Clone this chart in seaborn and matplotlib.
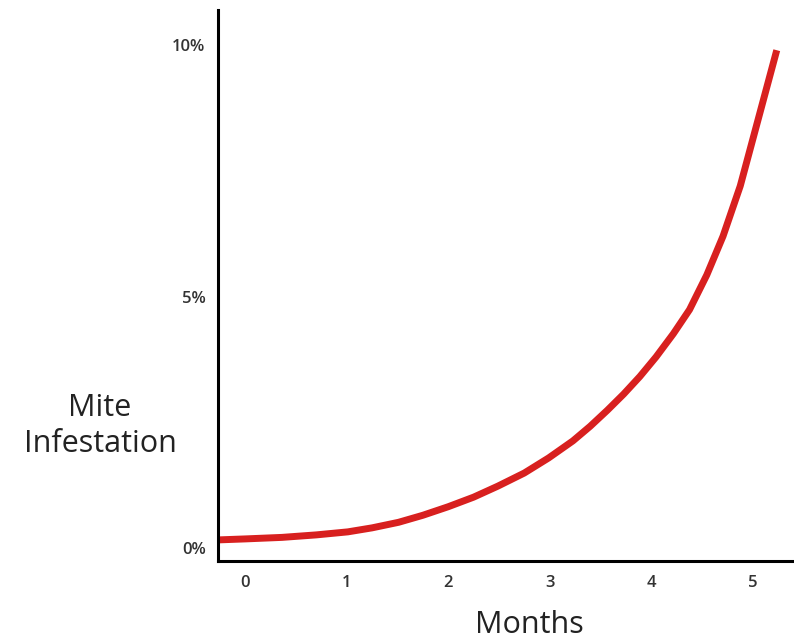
import matplotlib
matplotlib.use("Agg")
import matplotlib.pyplot as plt
import pandas as pd
import seaborn as sns

# values
months = [-0.27, 0.0, 0.36, 0.7, 1.01, 1.25, 1.51, 1.75, 2.0, 2.25, 2.49, 2.75,
          2.99, 3.23, 3.4, 3.57, 3.73, 3.89, 4.05, 4.22, 4.38, 4.55, 4.71, 4.88,
          5.0, 5.12, 5.24]
infestation = [0.16, 0.18, 0.21, 0.26, 0.32, 0.40, 0.51, 0.65, 0.82, 1.01, 1.23, 1.49,
               1.79, 2.13, 2.42, 2.74, 3.06, 3.41, 3.80, 4.26, 4.74, 5.43, 6.20, 7.20,
               8.10, 9.00, 9.90]

x_ticks = [0, 1, 2, 3, 4, 5]
y_ticks = [0, 5, 10]
y_labels = ["0%", "5%", "10%"]

sns.set_style("white")
plt.rcParams["font.family"] = ["Open Sans", "DejaVu Sans"]

df = pd.DataFrame({"Months": months, "Infestation": infestation})

fig = plt.figure(figsize=(7.94, 6.4), dpi=100)
ax = fig.add_axes([0.2746, 0.1234, 0.7254, 0.861])

sns.lineplot(data=df, x="Months", y="Infestation", ax=ax, color="#d8201f",
             linewidth=5, solid_capstyle="butt", solid_joinstyle="round")

ax.set_xlim(-0.27, 5.41)
ax.set_ylim(-0.26, 10.7)
ax.set_xticks(x_ticks)
ax.set_yticks(y_ticks)
ax.set_yticklabels(y_labels)
ax.tick_params(length=0, labelsize=12, labelcolor="#333333")
ax.tick_params(axis="x", pad=10)
ax.tick_params(axis="y", pad=9)
for lab in ax.get_xticklabels() + ax.get_yticklabels():
    lab.set_fontweight("semibold")

for side in ["top", "right"]:
    ax.spines[side].set_visible(False)
for side in ["left", "bottom"]:
    ax.spines[side].set_linewidth(2.2)
    ax.spines[side].set_color("black")

ax.set_xlabel("Months", fontsize=22, color="#222222", va="center")
ax.xaxis.set_label_coords(0.54, -0.116)
ax.set_ylabel("Mite\nInfestation", fontsize=22, color="#222222", rotation=0,
              ha="center", va="center", linespacing=1.3)
ax.yaxis.set_label_coords(-0.205, 0.245)

fig.savefig("out.png", dpi=100)
